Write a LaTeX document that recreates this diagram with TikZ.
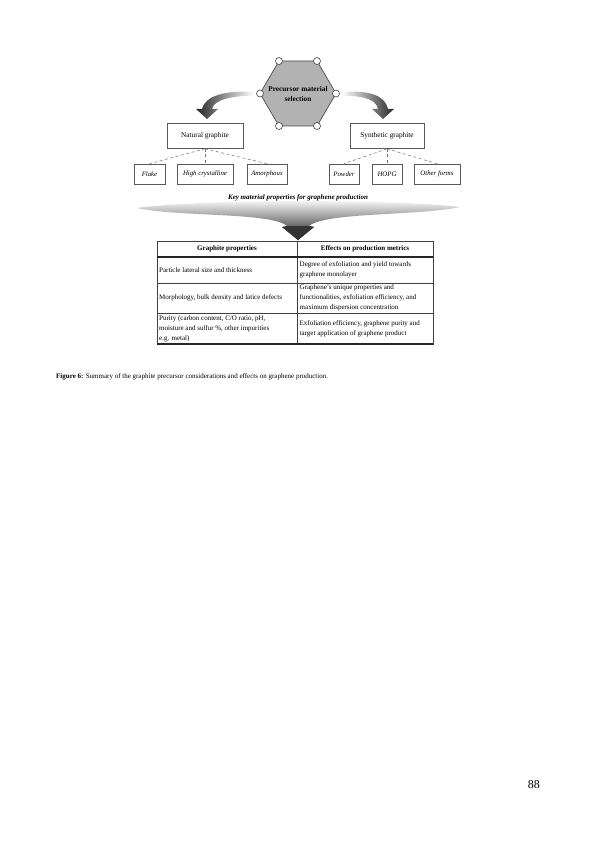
\documentclass[tikz,border=0pt]{standalone}
\usepackage{fontspec}
\setmainfont{Liberation Serif}
\begin{document}
\begin{tikzpicture}[x=1pt,y=-1pt,
  txt/.style={inner sep=0pt,font=\fontsize{7}{10}\selectfont},
  gbox/.style={draw=black!65,line width=0.6pt,fill=white,inner sep=0pt,font=\fontsize{7.3}{9}\selectfont},
  sbox/.style={draw=black!65,line width=0.6pt,fill=white,inner sep=0pt,minimum height=20pt,font=\fontsize{6.8}{8}\selectfont\itshape},
  dashline/.style={draw=black!55,line width=0.5pt,dash pattern=on 3pt off 2.5pt},
  knob/.style={circle,draw=black!75,fill=white,line width=0.6pt,inner sep=0pt,minimum size=7pt},
  hexstyle/.style={fill=black!30,draw=black!70,line width=0.7pt},
  tline/.style={draw=black!75,line width=0.6pt},
  tthick/.style={draw=black!85,line width=1.4pt}]
\useasboundingbox (0,0) rectangle (596,842);
\fill[white] (0,0) rectangle (596,842);

% curved arrows
\shade[left color=black!85,right color=white] (254,92) .. controls (225,90) and (205,96) .. (202,109)
  -- (196,109) -- (207,119) -- (218,109) -- (212,109)
  .. controls (214,100) and (230,96) .. (254,95.5) -- cycle;
\shade[right color=black!85,left color=white] (342,92) .. controls (371,90) and (385,96) .. (388,109)
  -- (394,109) -- (383,119) -- (372,109) -- (378,109)
  .. controls (376,100) and (366,96) .. (342,95.5) -- cycle;

% hexagon
\coordinate (v1) at (279,61);
\coordinate (v2) at (317,61);
\coordinate (v3) at (336,93.5);
\coordinate (v4) at (317,126);
\coordinate (v5) at (279,126);
\coordinate (v6) at (260,93.5);
\draw[hexstyle] (v1) -- (v2) -- (v3) -- (v4) -- (v5) -- (v6) -- cycle;
\foreach \i in {1,...,6} \node[knob] (k\i) at (v\i) {};
\node[txt,font=\fontsize{7.3}{10}\selectfont\bfseries,align=center] (hex) at (298,94)
  {Precursor material\\selection};

% graphite boxes
\node[gbox,minimum width=76pt,minimum height=25pt] (nat) at (205,136) {Natural graphite};
\node[gbox,minimum width=74pt,minimum height=25pt] (syn) at (387,136) {Synthetic graphite};

\node[sbox,minimum width=31pt] (flake) at (149.5,174) {Flake};
\node[sbox,minimum width=56pt] (hc) at (205,174) {High crystalline};
\node[sbox,minimum width=40pt] (amor) at (267,174) {Amorphous};
\node[sbox,minimum width=30pt] (pow) at (344,174) {Powder};
\node[sbox,minimum width=30pt] (hopg) at (387,174) {HOPG};
\node[sbox,minimum width=46pt] (oth) at (437,174) {Other forms};

\draw[dashline] (nat.south) -- (flake.north);
\draw[dashline] (nat.south) -- (hc.north);
\draw[dashline] (nat.south) -- (amor.north);
\draw[dashline] (syn.south) -- (pow.north);
\draw[dashline] (syn.south) -- (hopg.north);
\draw[dashline] (syn.south) -- (oth.north);

\node[txt,font=\fontsize{7}{9}\selectfont\bfseries\itshape] (key) at (298,198)
  {Key material properties for graphene production};

% funnel arrow
\shade[top color=white,bottom color=black!90]
  (137,208) .. controls (200,199) and (396,199) .. (460,207)
  .. controls (420,216) and (325,212) .. (309,226)
  -- (314,227) -- (298,240) -- (282,227) -- (287,226)
  .. controls (271,212) and (176,217) .. cycle;
\fill[black!80] (287,226) -- (282,227) -- (298,240) -- (314,227) -- (309,226) -- cycle;

% table
\draw[tline] (157,241) rectangle (433,344);
\draw[tline] (297,241) -- (297,344);
\draw[tthick] (157,257) -- (433,257);
\draw[tline] (157,283) -- (433,283);
\draw[tline] (157,313) -- (433,313);
\draw[tthick] (157,344) -- (433,344);

\node[txt,font=\fontsize{7}{10}\selectfont\bfseries] (h1) at (227,249) {Graphite properties};
\node[txt,font=\fontsize{7}{10}\selectfont\bfseries] (h2) at (365,249) {Effects on production metrics};

\node[txt,anchor=west,align=left] (a1) at (159,270) {Particle lateral size and thickness};
\node[txt,anchor=west,align=left] (b1) at (299.5,270) {Degree of exfoliation and yield towards\\graphene monolayer};
\node[txt,anchor=west,align=left] (a2) at (159,298) {Morphology, bulk density and latice defects};
\node[txt,anchor=west,align=left] (b2) at (299.5,298) {Graphene's unique properties and\\functionalities, exfoliation efficiency, and\\maximum dispersion concentration};
\node[txt,anchor=west,align=left] (a3) at (159,328.5) {Purity (carbon content, C/O ratio, pH,\\moisture and sulfur \%, other impurities\\e.g. metal)};
\node[txt,anchor=west,align=left] (b3) at (299.5,328.5) {Exfoliation efficiency, graphene purity and\\target application of graphene product};

% caption
\node[txt,anchor=west,font=\fontsize{7}{9}\selectfont] (cap) at (56,377)
  {\textbf{Figure 6:} Summary of the graphite precursor considerations and effects on graphene production.};

\node[txt,anchor=east,font=\fontsize{12}{14}\selectfont] (pg) at (540,785) {88};
\end{tikzpicture}
\end{document}
